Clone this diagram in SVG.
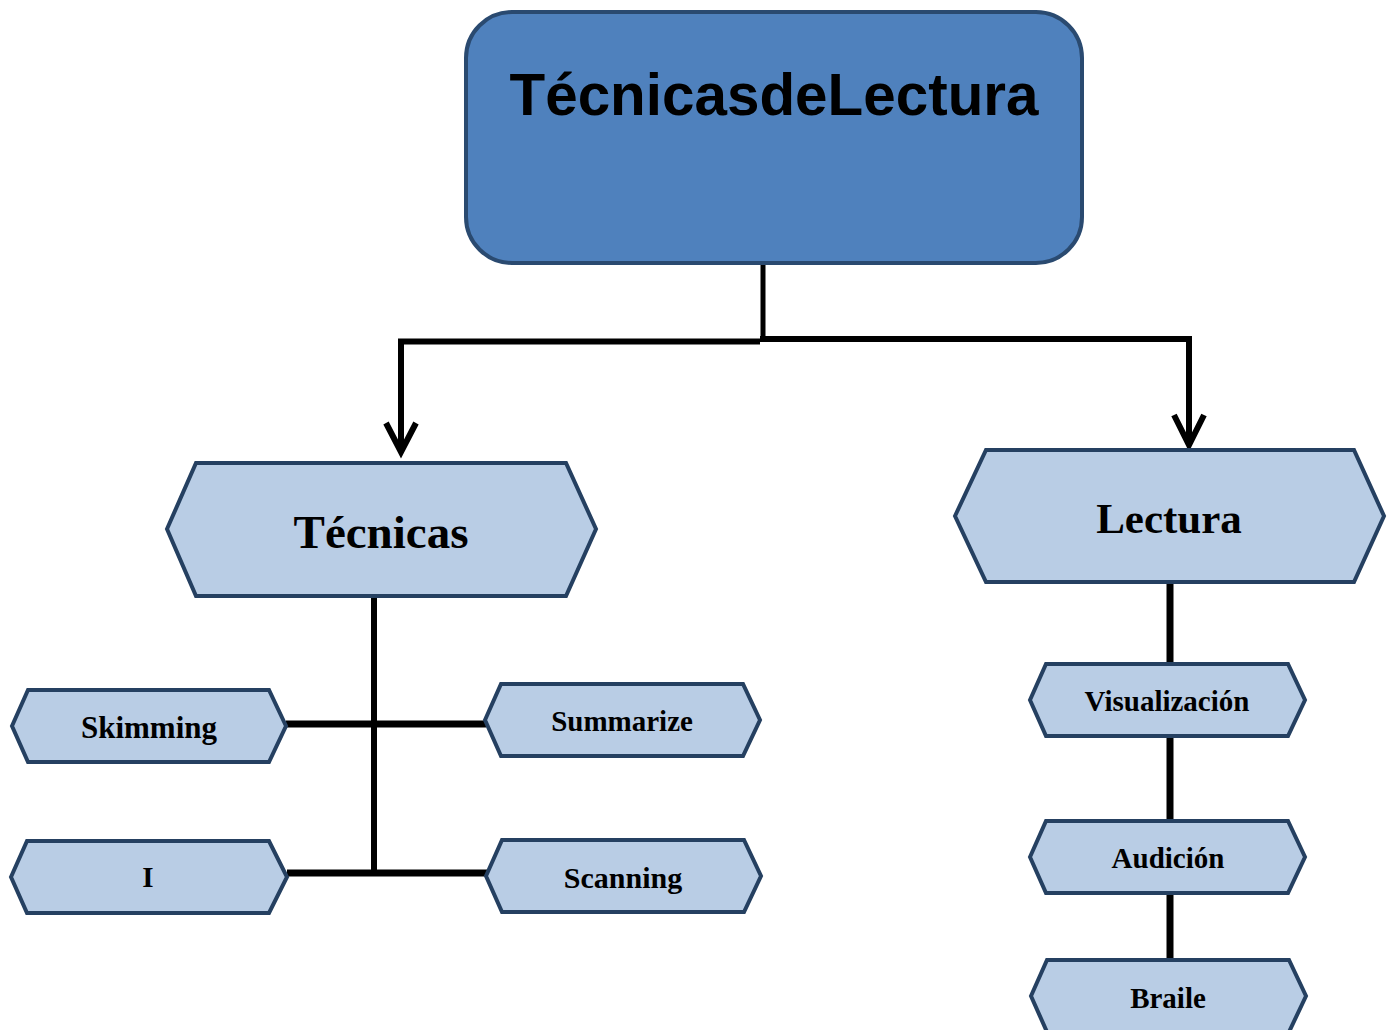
<svg xmlns="http://www.w3.org/2000/svg" width="1395" height="1030" viewBox="0 0 1395 1030">
<style>
.hex{fill:#B9CDE5;stroke:#254061;stroke-width:4;stroke-linejoin:miter}
.lbl{font-family:"Liberation Serif","Times New Roman",serif;font-weight:bold;fill:#000;text-anchor:middle}
.con{stroke:#000;fill:none;stroke-linecap:butt}
</style>
<rect width="1395" height="1030" fill="#fff"/>
<g id="connectors">
<path class="con" d="M763 264 V341" stroke-width="5"/>
<path class="con" d="M760 341.5 H401 V452" stroke-width="6"/>
<path class="con" d="M760 339 H1189 V445" stroke-width="6"/>
<path class="con" d="M386 423 L401 452 L416 423" stroke-width="6"/>
<path class="con" d="M1174 415 L1189 445 L1204 415" stroke-width="6"/>
<path class="con" d="M374 596 V873" stroke-width="6"/>
<path class="con" d="M286 724 H486" stroke-width="7"/>
<path class="con" d="M287 873 H487" stroke-width="7"/>
<path class="con" d="M1170 582 V664 M1170 736 V821 M1170 893 V960" stroke-width="7"/>
</g>
<g id="root">
<rect x="466" y="12" width="616" height="251" rx="46" fill="#4F81BD" stroke="#2A4A70" stroke-width="4"/>
<text x="774" y="115" font-family="Liberation Sans, Arial, sans-serif" font-weight="bold" font-size="59" text-anchor="middle" textLength="529" lengthAdjust="spacingAndGlyphs">TécnicasdeLectura</text>
</g>
<g id="tecnicas">
<polygon class="hex" points="167,529 196,463 566,463 596,529 566,596 196,596"/>
<text class="lbl" x="381" y="548" font-size="47">Técnicas</text>
</g>
<g id="lectura">
<polygon class="hex" points="955,516 986,450 1354,450 1384,516 1354,582 986,582"/>
<text class="lbl" x="1169" y="533" font-size="43">Lectura</text>
</g>
<g id="skimming">
<polygon class="hex" points="12,726 28,690 269,690 286,726 269,762 28,762"/>
<text class="lbl" x="149" y="738" font-size="31">Skimming</text>
</g>
<g id="summarize">
<polygon class="hex" points="485,720 501,684 743,684 760,720 743,756 501,756"/>
<text class="lbl" x="622" y="731" font-size="29">Summarize</text>
</g>
<g id="i">
<polygon class="hex" points="11,877 27,841 269,841 287,877 269,913 27,913"/>
<text class="lbl" x="148" y="887" font-size="29">I</text>
</g>
<g id="scanning">
<polygon class="hex" points="486,876 502,840 744,840 761,876 744,912 502,912"/>
<text class="lbl" x="623" y="888" font-size="30">Scanning</text>
</g>
<g id="visualizacion">
<polygon class="hex" points="1030,700 1046,664 1288,664 1305,700 1288,736 1046,736"/>
<text class="lbl" x="1167" y="711" font-size="29">Visualización</text>
</g>
<g id="audicion">
<polygon class="hex" points="1030,857 1046,821 1288,821 1305,857 1288,893 1046,893"/>
<text class="lbl" x="1168" y="868" font-size="29">Audición</text>
</g>
<g id="braile">
<polygon class="hex" points="1031,996 1047,960 1289,960 1306,996 1289,1032 1047,1032"/>
<text class="lbl" x="1168" y="1008" font-size="29">Braile</text>
</g>
</svg>
